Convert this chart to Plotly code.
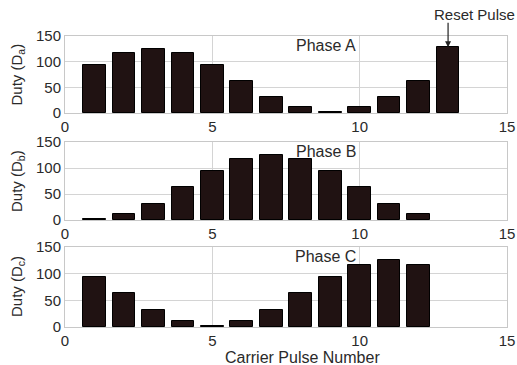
import plotly.graph_objects as go

pulses_a = list(range(1, 14))
duty_a = [94, 117, 125, 117, 94, 63, 31, 11, 1, 11, 31, 63, 128]
pulses_bc = list(range(1, 13))
duty_b = [1, 11, 31, 63, 94, 117, 125, 117, 94, 63, 31, 11]
duty_c = [94, 63, 31, 11, 1, 11, 31, 63, 94, 117, 125, 117]
phase_names = ["Phase A", "Phase B", "Phase C"]
y_titles = ["Duty (D<sub>a</sub>)", "Duty (D<sub>b</sub>)", "Duty (D<sub>c</sub>)"]
x_ticks = [0, 5, 10, 15]
y_ticks = [0, 50, 100, 150]

W, H = 517, 365
L, R = 65, 507
panels = [(36, 113), (142, 220), (247, 327)]  # reference pixel top/bottom

def py(p):
    return 1 - p / H

def px(p):
    return (p - L) / (R - L)

fig = go.Figure()
series = [(pulses_a, duty_a), (pulses_bc, duty_b), (pulses_bc, duty_c)]
font_color = "#2a2a2a"
fam = "Liberation Sans"
for i, (xs, ys) in enumerate(series):
    n = "" if i == 0 else str(i + 1)
    fig.add_trace(go.Bar(x=xs, y=ys, width=0.77, xaxis="x" + n, yaxis="y" + n,
                         marker=dict(color="#201212", line=dict(color="#000000", width=1)),
                         showlegend=False, hoverinfo="skip"))
    top, bot = panels[i]
    ax = dict(domain=[0, 1], range=[0, 15], tickvals=x_ticks, showgrid=True,
              gridcolor="#d4d4d4", gridwidth=1, showline=True, linecolor="#c8c8c8",
              mirror=True, zeroline=False, ticks="", anchor="y" + n, automargin=False,
              tickfont=dict(size=15, color=font_color, family=fam))
    ay = dict(domain=[py(bot), py(top)], range=[0, 150], tickvals=y_ticks, showgrid=True,
              gridcolor="#d4d4d4", gridwidth=1, showline=True, linecolor="#c8c8c8",
              mirror=True, zeroline=False, ticks="", anchor="x" + n, automargin=False,
              tickfont=dict(size=15, color=font_color, family=fam))
    fig.update_layout(**{"xaxis" + n: ax, "yaxis" + n: ay})
    fig.add_annotation(text=phase_names[i], x=9.93, y=150, xref="x" + n, yref="y" + n,
                       xanchor="right", yanchor="top", showarrow=False, yshift=1,
                       font=dict(size=16, color=font_color, family=fam))
    fig.add_annotation(text=y_titles[i], x=px(17), y=py((top + bot) / 2),
                       xref="paper", yref="paper", textangle=-90, showarrow=False,
                       xanchor="center", yanchor="middle",
                       font=dict(size=15, color=font_color, family=fam))

fig.add_annotation(text="", x=13, y=duty_a[-1], xref="x", yref="y", ax=0, ay=-26,
                   showarrow=True, arrowhead=2, arrowsize=1, arrowwidth=1.2,
                   arrowcolor="#222222", standoff=0)
fig.add_annotation(text="Reset Pulse", x=1.0, y=py(15), xref="paper",
                   yref="paper", showarrow=False, xanchor="right", yanchor="middle",
                   xshift=10,
                   font=dict(size=15, color=font_color, family=fam))
fig.add_annotation(text="Carrier Pulse Number", x=px(302), y=py(357),
                   xref="paper", yref="paper", showarrow=False, xanchor="center",
                   yanchor="middle",
                   font=dict(size=16, color=font_color, family=fam))

fig.update_layout(width=W, height=H, margin=dict(l=L, r=W - R, t=0, b=0),
                  plot_bgcolor="white", paper_bgcolor="white", bargap=0,
                  hovermode=False)
fig.write_html("out.html", config={"displayModeBar": False},
               post_script="document.body.style.margin='0';document.body.style.overflow='hidden';")
